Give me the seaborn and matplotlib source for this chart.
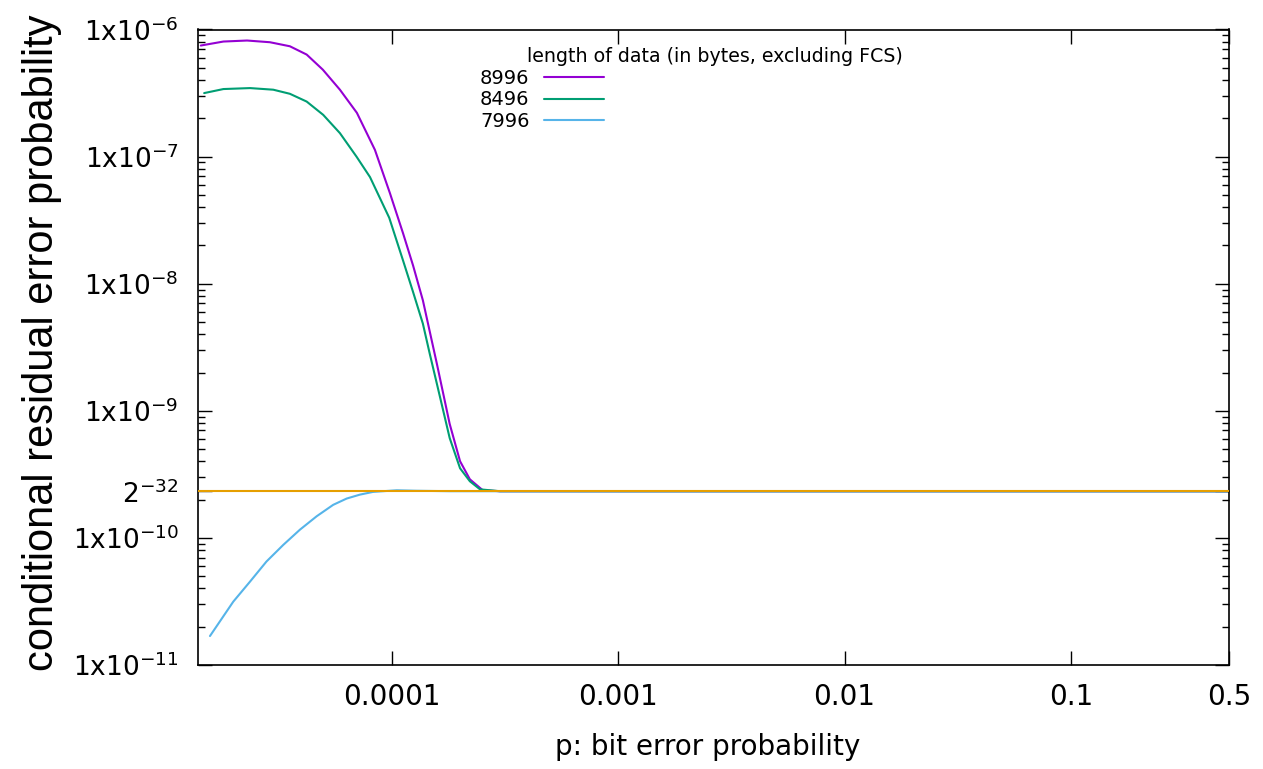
import numpy as np
import pandas as pd
import matplotlib
matplotlib.use("Agg")
import matplotlib.pyplot as plt
import seaborn as sns
from matplotlib.lines import Line2D
from matplotlib.ticker import LogLocator, NullLocator, NullFormatter

# values (log-log)
lengths = ["8996", "8496", "7996"]
line_colors = ["#9400D3", "#009E73", "#56B4E9"]
limit_color = "#E69F00"
limit_2_32 = 2.328e-10

p_8996 = [1.43e-5, 1.80e-5, 2.29e-5, 2.89e-5, 3.54e-5, 4.20e-5, 4.95e-5, 5.89e-5,
          7.0e-5, 8.41e-5, 9.8e-5, 1.12e-4, 1.24e-4, 1.37e-4, 1.47e-4, 1.58e-4,
          1.80e-4, 2.0e-4, 2.21e-4, 2.52e-4, 3.0e-4, 1e-3, 1e-2, 0.1, 0.5]
r_8996 = [7.48e-7, 8.04e-7, 8.19e-7, 7.94e-7, 7.38e-7, 6.35e-7, 4.83e-7, 3.36e-7,
          2.21e-7, 1.13e-7, 5.15e-8, 2.49e-8, 1.39e-8, 7.4e-9, 4.19e-9, 2.34e-9,
          7.87e-10, 4.01e-10, 2.89e-10, 2.37e-10, 2.33e-10, 2.328e-10, 2.328e-10,
          2.328e-10, 2.328e-10]

p_8496 = [1.48e-5, 1.80e-5, 2.36e-5, 2.99e-5, 3.54e-5, 4.20e-5, 4.97e-5, 5.89e-5,
          6.98e-5, 8.0e-5, 9.73e-5, 1.12e-4, 1.24e-4, 1.37e-4, 1.47e-4, 1.58e-4,
          1.80e-4, 2.0e-4, 2.21e-4, 2.45e-4, 3.0e-4, 1e-3, 1e-2, 0.1, 0.5]
r_8496 = [3.16e-7, 3.40e-7, 3.46e-7, 3.36e-7, 3.12e-7, 2.71e-7, 2.13e-7, 1.53e-7,
          9.97e-8, 6.9e-8, 3.3e-8, 1.52e-8, 8.6e-9, 4.85e-9, 2.8e-9, 1.63e-9,
          6.1e-10, 3.53e-10, 2.79e-10, 2.41e-10, 2.33e-10, 2.328e-10, 2.328e-10,
          2.328e-10, 2.328e-10]

p_7996 = [1.57e-5, 1.99e-5, 2.36e-5, 2.79e-5, 3.31e-5, 3.92e-5, 4.65e-5, 5.5e-5,
          6.31e-5, 7.22e-5, 8.24e-5, 1.05e-4, 1.28e-4, 1.8e-4, 1e-3, 1e-2, 0.1, 0.5]
r_7996 = [1.69e-11, 3.15e-11, 4.53e-11, 6.52e-11, 8.81e-11, 1.16e-10, 1.48e-10, 1.82e-10,
          2.04e-10, 2.19e-10, 2.30e-10, 2.37e-10, 2.35e-10, 2.33e-10, 2.328e-10, 2.328e-10,
          2.328e-10, 2.328e-10]

x_ticks = [1e-4, 1e-3, 1e-2, 1e-1, 0.5]
x_tick_labels = ["0.0001", "0.001", "0.01", "0.1", "0.5"]
y_ticks = [1e-11, 1e-10, limit_2_32, 1e-9, 1e-8, 1e-7, 1e-6]
y_tick_labels = [r"1x10$^{-11}$", r"1x10$^{-10}$", r"2$^{-32}$", r"1x10$^{-9}$",
                 r"1x10$^{-8}$", r"1x10$^{-7}$", r"1x10$^{-6}$"]

df = pd.concat([
    pd.DataFrame({"p": p_8996, "r": r_8996, "length": "8996"}),
    pd.DataFrame({"p": p_8496, "r": r_8496, "length": "8496"}),
    pd.DataFrame({"p": p_7996, "r": r_7996, "length": "7996"}),
])

sns.set_style("ticks")
plt.rcParams["font.family"] = ["DejaVu Sans"]
plt.rcParams["mathtext.fontset"] = "dejavusans"
plt.rcParams["text.color"] = "black"
plt.rcParams["axes.labelcolor"] = "black"
plt.rcParams["xtick.color"] = "black"
plt.rcParams["ytick.color"] = "black"

fig = plt.figure(figsize=(12.63, 7.69), dpi=100)
ax = fig.add_axes([198 / 1263, 1 - 665 / 769, (1229 - 198) / 1263, (665 - 29.5) / 769])

sns.lineplot(data=df, x="p", y="r", hue="length", hue_order=lengths, palette=line_colors,
             estimator=None, sort=False, linewidth=1.5, legend=False, ax=ax)
ax.axhline(limit_2_32, color=limit_color, linewidth=1.5, zorder=5)

ax.set_xscale("log")
ax.set_yscale("log")
ax.set_xticks(x_ticks)
ax.set_xticklabels(x_tick_labels)
ax.xaxis.set_minor_locator(NullLocator())
ax.set_yticks(y_ticks)
ax.set_yticklabels(y_tick_labels)
ax.yaxis.set_minor_locator(LogLocator(base=10, subs=np.arange(2, 10)))
ax.yaxis.set_minor_formatter(NullFormatter())
ax.set_xlim(1.39e-5, 0.5)
ax.set_ylim(1e-11, 1e-6)

ax.tick_params(which="both", direction="in", top=True, right=True, color="black")
ax.tick_params(which="major", length=10, width=1)
ax.tick_params(which="minor", length=5, width=1)
ax.tick_params(axis="x", labelsize=20, pad=13)
ax.tick_params(axis="y", labelsize=19, pad=14)
for s in ax.spines.values():
    s.set_linewidth(1.2)
    s.set_color("black")

ax.set_xlabel("p: bit error probability", fontsize=20)
ax.xaxis.set_label_coords(0.4946, -0.107)
ax.set_ylabel("conditional residual error probability", fontsize=30,
              family="Liberation Sans")
ax.yaxis.set_label_coords(-0.132, 0.507)

handles = [Line2D([], [], color=c, linewidth=1.5) for c in line_colors]
ax.legend(handles, lengths, markerfirst=False, frameon=False, fontsize=14,
          handlelength=3.1, handletextpad=0.75, labelspacing=0.12,
          borderpad=0, borderaxespad=0, loc="upper left",
          bbox_to_anchor=(480 / 1263, 1 - 69 / 769), bbox_transform=fig.transFigure)
fig.text(715 / 1263, 1 - 56 / 769, "length of data (in bytes, excluding FCS)",
         ha="center", va="center", fontsize=13.7)

fig.savefig("out.png", dpi=100)
